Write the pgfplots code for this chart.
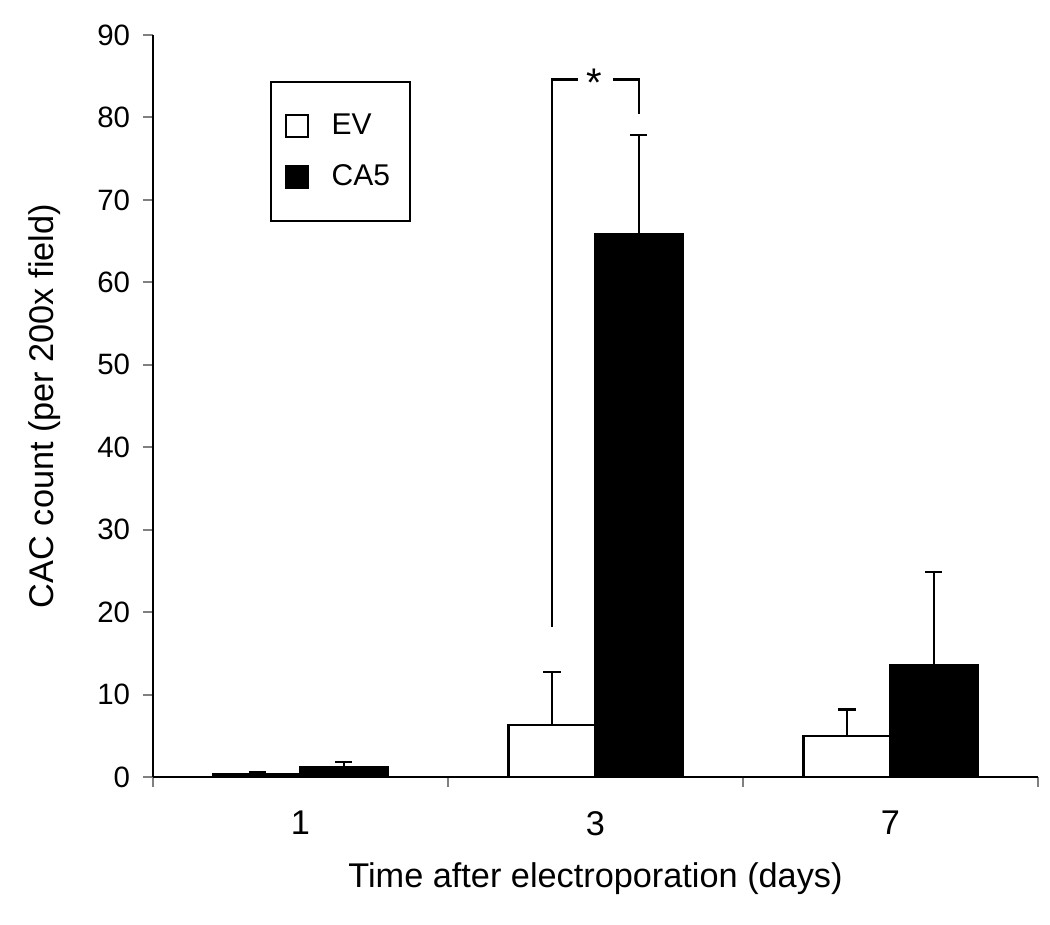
\documentclass[border=0pt]{standalone}
\usepackage{pgfplots}
\pgfplotsset{compat=1.18}
\usepackage{fontspec}
\setmainfont{Liberation Sans}
\begin{document}
\begin{tikzpicture}
\begin{axis}[
  at={(0,0)}, anchor=south west,
  scale only axis,
  width=309.75pt, height=259.7pt,
  xmin=-0.5, xmax=2.5, ymin=0, ymax=90,
  axis x line*=bottom, axis y line*=left,
  axis line style={line width=0.7pt, -},
  xtick={0,1,2}, xticklabels={1,3,7},
  major x tick style={draw=none},
  minor xtick={-0.5,0.5,1.5,2.5},
  minor x tick style={line width=0.7pt},
  minor tick length=3.5pt,
  ytick={0,10,...,90},
  y tick style={line width=0.7pt},
  major tick length=3.5pt,
  tick align=outside,
  /pgf/number format/assume math mode=true,
  yticklabel style={font=\fontsize{10.3}{12}\selectfont, xshift=-1pt},
  xticklabel style={font=\fontsize{12}{14}\selectfont, yshift=-5pt},
  xlabel={Time after electroporation (days)},
  ylabel={CAC count (per 200x field)},
  xlabel style={font=\fontsize{12}{14}\selectfont, at={(axis description cs:0.5,-0.1375)}, anchor=center},
  ylabel style={font=\fontsize{12}{14}\selectfont, at={(axis description cs:-0.122,0.5)}, anchor=center},
  legend style={draw=black, line width=0.7pt, at={(0.132,0.938)}, anchor=north west,
    inner xsep=5pt, inner ysep=9pt,
    row sep=5pt, font=\fontsize{10.5}{12}\selectfont,
    /tikz/every odd column/.append style={column sep=6pt}},
  legend cell align=left,
  legend image code/.code={\draw[#1, line width=0.6pt] (0pt,-3.85pt) rectangle (7.7pt,3.85pt);},
  error bars/error bar style={line width=0.8pt, black},
  error bars/error mark options={line width=0.8pt, black, mark size=3pt, rotate=90},
]
% EV bars (category centres 0,1,2 shifted left by half a bar)
\addplot[ybar, bar width=30.45pt, bar shift=0pt, draw=black, fill=white, line width=0.8pt,
  error bars/.cd, y dir=plus, y explicit]
  coordinates {(-0.1472,0.3) +- (0,0.3) (0.8528,6.3) +- (0,6.4) (1.8528,5.0) +- (0,3.2)};
\addlegendentry{EV}
% CA5 bars
\addplot[ybar, bar width=30.45pt, bar shift=0pt, draw=black, fill=black, line width=0.8pt,
  error bars/.cd, y dir=plus, y explicit]
  coordinates {(0.1472,1.15) +- (0,0.65) (1.1472,65.8) +- (0,12.1) (2.1472,13.6) +- (0,11.3)};
\addlegendentry{CA5}
\addplot[black, line width=0.8pt, forget plot] coordinates {(0.8528,18.2) (0.8528,84.6) (0.9407,84.6)};
\addplot[black, line width=0.8pt, forget plot] coordinates {(1.0593,84.6) (1.1472,84.6) (1.1472,80.4)};
\node[font=\fontsize{14}{14}\selectfont, inner sep=0pt] at (axis cs:0.995,84.2) {*};
\end{axis}
\pgfresetboundingbox
\useasboundingbox (-53.55pt,-51.8pt) rectangle (313.95pt,271.95pt);
\end{tikzpicture}
\end{document}
